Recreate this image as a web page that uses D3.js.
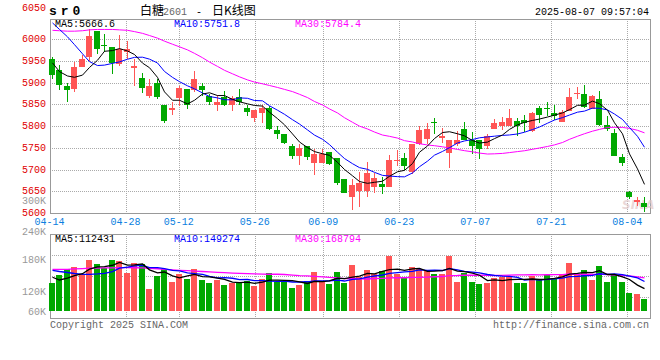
<!DOCTYPE html>
<html><head><meta charset="utf-8">
<script src="https://cdn.jsdelivr.net/npm/d3@7"></script>
<style>
html,body{margin:0;padding:0;background:#fff;}
svg{display:block;}
text{font-family:"Liberation Mono","DejaVu Sans Mono",monospace;font-size:10px;}
</style></head><body>
<svg id="c" width="660" height="360"></svg>
<script>
// ---------- data ----------
const dates = ["04-14","04-15","04-16","04-17","04-18","04-21","04-22","04-23","04-24","04-25","04-28","04-29","04-30","05-06","05-07","05-08","05-09","05-12","05-13","05-14","05-15","05-16","05-19","05-20","05-21","05-22","05-23","05-26","05-27","05-28","05-29","05-30","06-03","06-04","06-05","06-06","06-09","06-10","06-11","06-12","06-13","06-16","06-17","06-18","06-19","06-20","06-23","06-24","06-25","06-26","06-27","06-30","07-01","07-02","07-03","07-04","07-07","07-08","07-09","07-10","07-11","07-14","07-15","07-16","07-17","07-18","07-21","07-22","07-23","07-24","07-25","07-28","07-29","07-30","07-31","08-01","08-04","08-05","08-06","08-07"];
const openP = [5954,5929,5893,5884,5935,5958,6019,5987,5981,5942,
  5969,5934,5910,5870,5899,5849,5836,5864,5884,5883,
  5893,5868,5849,5866,5849,5866,5842,5818,5830,5842,
  5790,5781,5753,5731,5753,5715,5715,5740,5727,5678,
  5637,5651,5650,5660,5666,5660,5720,5726,5694,5759,
  5771,5809,5773,5739,5758,5792,5767,5767,5755,5794,
  5801,5800,5811,5814,5788,5842,5842,5829,5809,5834,
  5874,5874,5839,5862,5803,5784,5729,5649,5626,5623];
const highP = [5958,5941,5899,5946,5964,6022,6019,6011,5981,6010,
  5996,5954,5921,5908,5908,5849,5855,5893,5884,5926,
  5898,5874,5872,5880,5868,5885,5849,5836,5849,5847,
  5799,5781,5759,5759,5753,5746,5746,5740,5727,5678,
  5679,5694,5717,5692,5683,5734,5744,5738,5758,5799,
  5807,5818,5795,5767,5788,5810,5786,5767,5782,5815,
  5821,5839,5818,5826,5833,5847,5855,5849,5836,5887,
  5889,5894,5871,5880,5822,5792,5736,5651,5637,5637];
const lowP = [5908,5883,5855,5878,5935,5950,5965,5971,5920,5939,
  5954,5893,5875,5865,5862,5807,5826,5845,5839,5878,
  5868,5849,5834,5845,5834,5849,5824,5809,5807,5790,
  5771,5758,5725,5711,5721,5688,5715,5710,5664,5645,
  5608,5613,5636,5645,5643,5660,5708,5698,5689,5757,
  5759,5782,5762,5704,5755,5767,5736,5725,5748,5794,
  5790,5800,5778,5786,5786,5807,5822,5813,5809,5834,
  5862,5842,5839,5801,5788,5731,5708,5633,5616,5603];
const closeP = [5918,5894,5883,5936,5954,6006,5977,5986,5944,5977,
  5978,5937,5887,5891,5866,5811,5841,5887,5849,5908,
  5883,5855,5855,5849,5864,5855,5832,5836,5842,5793,
  5782,5761,5731,5749,5729,5736,5736,5713,5668,5647,
  5664,5670,5692,5680,5659,5721,5722,5708,5758,5790,
  5792,5808,5777,5767,5767,5768,5754,5748,5778,5807,
  5810,5818,5800,5807,5829,5826,5841,5822,5833,5866,
  5876,5843,5868,5803,5792,5731,5716,5637,5631,5614];
const volume = [143700,182300,211200,223800,182300,260400,238200,217000,260400,253700,
  194800,244000,238200,111900,177500,215100,147600,188100,164000,213200,
  157200,141800,157200,132100,141800,147600,152400,128300,162000,192900,
  145600,148500,118600,132100,152400,197700,145600,137000,197700,143700,
  233400,170700,208300,186100,203500,278700,186100,172600,223800,215100,
  208300,188100,188100,278700,147600,194800,147600,137000,143700,165900,
  174600,174600,141800,141800,177500,162000,182300,162000,182300,244000,
  182300,208300,157200,228600,147600,182300,147600,91600,85800,60800];
// moving-average values before enough visible days exist
const ma5Head = [5945,5925,5915,5912];
const ma10Head = [6037,6022,6005,5987,5966,5948,5939,5940,5944];
const ma30Head = [6020,6019,6018,6018,6019,6021,6022,6022,6022,6021,6020,6017,6013,6008,6002,5995,5988,5982,5975,5967,5957,5947,5937,5928,5920,5913,5906,5901,5897];
const volMa5Head = [171000,157000,166000,179000];
const volMa10Head = [206000,200000,195000,190000,186000,186000,188000,191000,200000];
const volMa30Head = [211000,211000,211000,213000,215000,217000,217000,218000,218000,220000,220000,219000,218000,216000,214000,211000,208000,206000,204000,202000,200000,198000,196000,194000,192000,191000,189000,188000,187000];
const priceTicks = [6050,6000,5950,5900,5850,5800,5750,5700,5650,5600];
const volTickLabels = ["300K","240K","180K","120K","60K"];
const dateTicks = ["04-14","04-28","05-12","05-26","06-09","06-23","07-07","07-21","08-04"];
const priceLegend = ["MA5:5666.6","MA10:5751.8","MA30:5784.4"];
const volLegend = ["MA5:112431","MA10:149274","MA30:168794"];

// ---------- layout ----------
const svg = d3.select("#c");
const L = 50, R = 650;
const MT = 19, MB = 213;
const VT = 234, VB = 318, VBASE = 311;
const UP = "#ff5555", DOWN = "#00a800", GRID = "#aaa", FRAME = "#999";

const xBand = d3.scaleBand().domain(dates).range([49, 649]);
const xGrid = d3.scalePoint().domain(dates).range([49.5, 650]);
const yP = d3.scaleLinear().domain([5600, 6046]).range([MB, MT]);
const yV = d3.scaleLinear().domain([0, 390000]).range([VBASE, VT]);
const cx = i => Math.round(xBand(dates[i]) + xBand.bandwidth() / 2);

const movAvg = (vals, n, head) => vals.map((v, i) => i >= n - 1 ? d3.mean(vals.slice(i - n + 1, i + 1)) : head[i]);
const ma5 = movAvg(closeP, 5, ma5Head), ma10 = movAvg(closeP, 10, ma10Head), ma30 = movAvg(closeP, 30, ma30Head);
const vma5 = movAvg(volume, 5, volMa5Head), vma10 = movAvg(volume, 10, volMa10Head), vma30 = movAvg(volume, 30, volMa30Head);

// ---------- grids ----------
const g = svg.append("g");
const gridTicks = priceTicks.filter(v => v > 5600 && v < 6046);
g.selectAll(".hg").data(gridTicks).join("line")
  .attr("x1", L).attr("x2", R)
  .attr("y1", d => Math.round(yP(d)) + 0.5).attr("y2", d => Math.round(yP(d)) + 0.5)
  .attr("stroke", GRID).attr("stroke-dasharray", "1,1");
const vGridDates = dateTicks.slice(1);
g.selectAll(".vg").data(vGridDates).join("line")
  .attr("x1", d => Math.round(xGrid(d)) + 0.5).attr("x2", d => Math.round(xGrid(d)) + 0.5)
  .attr("y1", MT).attr("y2", MB)
  .attr("stroke", GRID).attr("stroke-dasharray", "1,1");
// volume panel grid (quarters)
g.selectAll(".vhg").data([1, 2, 3]).join("line")
  .attr("x1", L).attr("x2", R)
  .attr("y1", d => VT + d * (VB - VT) / 4 + 0.5).attr("y2", d => VT + d * (VB - VT) / 4 + 0.5)
  .attr("stroke", GRID).attr("stroke-dasharray", "1,1");
g.selectAll(".vvg").data(vGridDates).join("line")
  .attr("x1", d => Math.round(xGrid(d)) + 0.5).attr("x2", d => Math.round(xGrid(d)) + 0.5)
  .attr("y1", VT).attr("y2", VB)
  .attr("stroke", GRID).attr("stroke-dasharray", "1,1");

// frames
svg.append("rect").attr("x", L + 0.5).attr("y", MT + 0.5).attr("width", R - L).attr("height", MB - MT)
  .attr("fill", "none").attr("stroke", FRAME);
svg.append("rect").attr("x", L + 0.5).attr("y", VT + 0.5).attr("width", R - L).attr("height", VB - VT)
  .attr("fill", "none").attr("stroke", FRAME);

// watermark
svg.append("text").attr("x", 622).attr("y", 209).text("SINA")
  .style("font-family", "'DejaVu Sans',sans-serif").style("font-size", "12px")
  .style("font-weight", "bold").style("font-style", "italic")
  .attr("fill", "#e2c8c8").attr("opacity", 0.7);

// ---------- candles ----------
const idx = d3.range(dates.length);
const cg = svg.append("g");
cg.selectAll(".wick").data(idx).join("rect")
  .attr("x", i => cx(i) - 1).attr("width", 1)
  .attr("y", i => Math.round(yP(highP[i])))
  .attr("height", i => Math.max(1, Math.round(yP(lowP[i])) - Math.round(yP(highP[i]))))
  .attr("fill", i => closeP[i] >= openP[i] ? UP : DOWN);
cg.selectAll(".body").data(idx).join("rect")
  .attr("x", i => cx(i) - 4).attr("width", 6)
  .attr("y", i => Math.round(yP(Math.max(openP[i], closeP[i]))))
  .attr("height", i => Math.max(1, Math.round(yP(Math.min(openP[i], closeP[i]))) - Math.round(yP(Math.max(openP[i], closeP[i])))))
  .attr("fill", i => closeP[i] >= openP[i] ? UP : DOWN);

// price MA lines
const pLine = d3.line().x((d, i) => cx(i) - 0.5).y(d => yP(d));
[[ma30, "#ff00ff"], [ma10, "#0000ff"], [ma5, "#000"]].forEach(([s, c]) => {
  svg.append("path").attr("d", pLine(s)).attr("fill", "none").attr("stroke", c).attr("stroke-width", 1);
});

// ---------- volume ----------
svg.append("g").selectAll("rect").data(idx).join("rect")
  .attr("x", i => cx(i) - 4).attr("width", 6)
  .attr("y", i => Math.round(yV(volume[i])))
  .attr("height", i => VBASE - Math.round(yV(volume[i])))
  .attr("fill", i => closeP[i] >= openP[i] ? UP : DOWN);
const vLine = d3.line().x((d, i) => cx(i) - 0.5).y(d => yV(d));
[[vma30, "#ff00ff"], [vma10, "#0000ff"], [vma5, "#000"]].forEach(([s, c]) => {
  svg.append("path").attr("d", vLine(s)).attr("fill", "none").attr("stroke", c).attr("stroke-width", 1.3);
});

// ---------- text ----------
// price axis labels
svg.append("g").selectAll("text").data(priceTicks).join("text")
  .attr("x", 46).attr("text-anchor", "end")
  .attr("y", (d, i) => i === 0 ? 11 : Math.round(yP(d)) + 2.5)
  .attr("fill", "#e00000").text(d => d);
// volume axis labels (fixed slots as in the reference)
const volLabelY = [204, 234.5, 263, 294.5, 314.5];
svg.append("g").selectAll("text").data(volTickLabels).join("text")
  .attr("x", 46).attr("text-anchor", "end")
  .attr("y", (d, i) => volLabelY[i]).attr("fill", "#999").text(d => d);
// date labels
svg.append("g").selectAll("text").data(dateTicks).join("text")
  .attr("x", d => xGrid(d)).attr("y", 225).attr("text-anchor", "middle")
  .attr("fill", "#0a80e0").text(d => d);

// legends
const legX = [55, 174, 295], legC = ["#000", "#0000ff", "#ff00ff"];
svg.append("g").selectAll("text").data(priceLegend).join("text")
  .attr("x", (d, i) => legX[i]).attr("y", 27).attr("fill", (d, i) => legC[i]).text(d => d);
svg.append("g").selectAll("text").data(volLegend).join("text")
  .attr("x", (d, i) => legX[i]).attr("y", 242).attr("fill", (d, i) => legC[i]).text(d => d);

// header
svg.append("text").attr("x", 49).attr("y", 15).text("sr0")
  .style("font-size", "13px").style("font-weight", "bold").style("letter-spacing", "3.9px").attr("fill", "#000");
const title = svg.append("text").attr("y", 15);
title.append("tspan").attr("x", 140).text("白糖").style("font-family", "'Noto Sans CJK SC',sans-serif").style("font-size", "12px").attr("fill", "#000");
title.append("tspan").attr("x", 163).text("2601").attr("fill", "#666");
title.append("tspan").attr("x", 196).text("-").attr("fill", "#000");
title.append("tspan").attr("x", 212).text("日K线图").style("font-family", "'Noto Sans CJK SC',sans-serif").style("font-size", "12px").attr("fill", "#000");
svg.append("text").attr("x", 649).attr("y", 15).attr("text-anchor", "end").attr("fill", "#000").text("2025-08-07 09:57:04");

// footer
svg.append("text").attr("x", 50).attr("y", 327.5).attr("fill", "#666").text("Copyright 2025 SINA.COM");
svg.append("text").attr("x", 649).attr("y", 327.5).attr("text-anchor", "end").attr("fill", "#666").text("http://finance.sina.com.cn");
</script>
</body></html>
